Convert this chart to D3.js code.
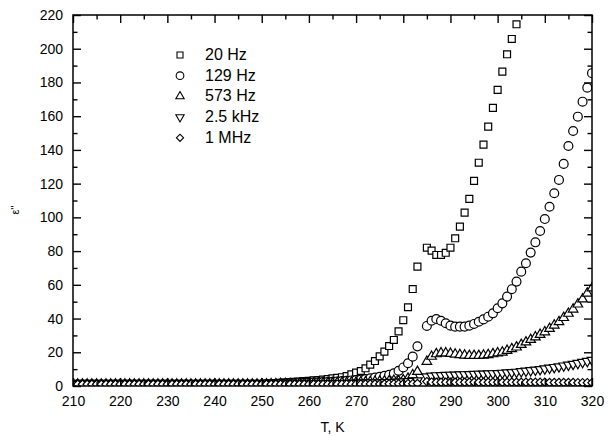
<!DOCTYPE html>
<html>
<head>
<meta charset="utf-8">
<script src="https://cdn.jsdelivr.net/npm/d3@7"></script>
<style>
  body { margin: 0; background: #fff; }
  text { font-family: "Liberation Sans", Arial, sans-serif; fill: #000; }
</style>
</head>
<body>
<svg class="chart"></svg>
<script>
let width = 611,
  height = 437;

// temperatures (K) - no point measured at 284
let temps = [210, 211, 212, 213, 214, 215, 216, 217, 218, 219, 220, 221, 222, 223, 224, 225, 226, 227, 228, 229,
  230, 231, 232, 233, 234, 235, 236, 237, 238, 239, 240, 241, 242, 243, 244, 245, 246, 247, 248, 249,
  250, 251, 252, 253, 254, 255, 256, 257, 258, 259, 260, 261, 262, 263, 264, 265, 266, 267, 268, 269,
  270, 271, 272, 273, 274, 275, 276, 277, 278, 279, 280, 281, 282, 283, 285, 286, 287, 288, 289, 290,
  291, 292, 293, 294, 295, 296, 297, 298, 299, 300, 301, 302, 303, 304, 305, 306, 307, 308, 309, 310,
  311, 312, 313, 314, 315, 316, 317, 318, 319, 320];

// eps'' for each frequency, same order as temps
let hz20 = [1.0, 1.0, 1.0, 1.0, 1.0, 1.0, 1.0, 1.0, 1.0, 1.0, 1.0, 1.0, 1.0, 1.0, 1.0, 1.0, 1.0, 1.0, 1.0, 1.0,
  1.0, 1.0, 1.0, 1.0, 1.0, 1.0, 1.0, 1.0, 1.0, 1.0, 1.0, 1.0, 1.0, 1.0, 1.0, 1.0, 1.2, 1.2, 1.2, 1.2,
  1.2, 1.4, 1.5, 1.7, 1.9, 2.1, 2.3, 2.5, 2.7, 2.9, 3.1, 3.3, 3.5, 3.8, 4.1, 4.5, 4.8, 5.2, 5.9, 6.9,
  7.9, 8.9, 10.5, 12.7, 14.8, 17.6, 20.4, 23.7, 27.3, 32.4, 39.0, 46.7, 57.5, 70.8, 82.0, 80.3, 77.7, 77.7, 79.0, 82.0,
  87.6, 94.5, 102.8, 111.0, 121.6, 132.4, 143.1, 153.8, 164.9, 175.6, 186.4, 196.7, 205.8, 214.5];

let hz129 = [1.0, 1.0, 1.0, 1.0, 1.0, 1.0, 1.0, 1.0, 1.0, 1.0, 1.0, 1.0, 1.0, 1.0, 1.0, 1.0, 1.0, 1.0, 1.0, 1.0,
  1.0, 1.0, 1.0, 1.0, 1.0, 1.0, 1.0, 1.0, 1.0, 1.0, 1.0, 1.0, 1.0, 1.0, 1.0, 1.0, 1.0, 1.0, 1.0, 1.0,
  1.0, 1.1, 1.2, 1.3, 1.4, 1.5, 1.6, 1.7, 1.8, 1.9, 2.0, 2.1, 2.2, 2.3, 2.4, 2.5, 2.7, 2.9, 3.1, 3.3,
  3.5, 3.8, 4.1, 4.5, 5.0, 5.5, 6.0, 6.6, 7.5, 9.0, 11.0, 13.5, 17.4, 23.5, 35.6, 38.7, 39.7, 38.7, 37.2, 35.8,
  35.2, 35.2, 35.2, 35.8, 36.8, 38.1, 39.5, 41.1, 43.1, 46.1, 49.0, 53.0, 57.4, 61.9, 67.8, 72.8, 79.1, 85.2, 91.9, 99.0,
  106.3, 114.3, 122.2, 131.7, 142.3, 151.2, 159.7, 168.6, 176.9, 185.5];

let hz573 = [1.0, 1.0, 1.0, 1.0, 1.0, 1.0, 1.0, 1.0, 1.0, 1.0, 1.0, 1.0, 1.0, 1.0, 1.0, 1.0, 1.0, 1.0, 1.0, 1.0,
  1.0, 1.0, 1.0, 1.0, 1.0, 1.0, 1.0, 1.0, 1.0, 1.0, 1.0, 1.0, 1.0, 1.0, 1.0, 1.0, 1.0, 1.0, 1.0, 1.0,
  1.0, 1.1, 1.2, 1.2, 1.3, 1.3, 1.4, 1.4, 1.5, 1.5, 1.6, 1.6, 1.7, 1.7, 1.8, 1.8, 1.9, 2.0, 2.0, 2.1,
  2.2, 2.3, 2.4, 2.5, 2.6, 2.7, 2.8, 3.0, 3.2, 3.0, 3.5, 4.5, 6.5, 8.5, 14.5, 17.5, 19.0, 19.5, 19.5, 19.2,
  18.8, 18.5, 18.2, 18.0, 18.0, 18.0, 18.2, 18.5, 19.0, 19.5, 20.0, 21.0, 22.0, 23.0, 24.5, 26.0, 27.5, 29.0, 30.5, 32.0,
  34.0, 36.0, 38.0, 40.5, 43.0, 45.5, 48.5, 51.5, 55.0, 58.0];

let khz25 = [1.0, 1.0, 1.0, 1.0, 1.0, 1.0, 1.0, 1.0, 1.0, 1.0, 1.0, 1.0, 1.0, 1.0, 1.0, 1.0, 1.0, 1.0, 1.0, 1.0,
  1.0, 1.0, 1.0, 1.0, 1.0, 1.0, 1.0, 1.0, 1.0, 1.0, 1.0, 1.0, 1.0, 1.0, 1.0, 1.0, 1.0, 1.0, 1.0, 1.0,
  1.0, 1.0, 1.1, 1.1, 1.1, 1.2, 1.2, 1.2, 1.3, 1.3, 1.3, 1.4, 1.4, 1.4, 1.5, 1.5, 1.5, 1.6, 1.6, 1.7,
  1.7, 1.8, 1.8, 1.9, 1.9, 2.0, 2.1, 2.2, 2.3, 2.4, 2.5, 2.7, 2.9, 3.2, 5.5, 6.0, 6.2, 6.3, 6.4, 6.5,
  6.6, 6.7, 6.8, 6.9, 7.0, 7.1, 7.2, 7.3, 7.4, 7.5, 7.7, 7.9, 8.1, 8.3, 8.6, 8.9, 9.2, 9.5, 9.9, 10.3,
  10.7, 11.1, 11.5, 12.0, 12.5, 13.0, 13.5, 14.1, 14.7, 15.3];

let mhz1 = [1.0, 1.0, 1.0, 1.0, 1.0, 1.0, 1.0, 1.0, 1.0, 1.0, 1.0, 1.0, 1.0, 1.0, 1.0, 1.0, 1.0, 1.0, 1.0, 1.0,
  1.0, 1.0, 1.0, 1.0, 1.0, 1.0, 1.0, 1.0, 1.0, 1.0, 1.0, 1.0, 1.0, 1.0, 1.0, 1.0, 1.0, 1.0, 1.0, 1.0,
  1.0, 1.0, 1.0, 1.0, 1.0, 1.0, 1.0, 1.0, 1.0, 1.0, 1.0, 1.0, 1.0, 1.0, 1.0, 1.0, 1.1, 1.1, 1.1, 1.1,
  1.1, 1.1, 1.2, 1.2, 1.2, 1.2, 1.2, 1.3, 1.3, 1.3, 1.3, 1.4, 1.4, 1.5, 2.6, 2.3, 2.2, 2.2, 2.2, 2.2,
  2.2, 2.2, 2.2, 2.2, 2.2, 2.2, 2.2, 2.2, 2.2, 2.2, 2.2, 2.2, 2.2, 2.2, 2.2, 2.2, 2.2, 2.2, 2.2, 2.2,
  2.1, 2.1, 2.1, 2.1, 2.1, 2.1, 2.0, 2.0, 2.0, 2.0];

let seriesNames = ["20 Hz", "129 Hz", "573 Hz", "2.5 kHz", "1 MHz"];
let seriesValues = [hz20, hz129, hz573, khz25, mhz1];
// diamond = square turned 45 degrees, so it is as wide as it is tall
let seriesSymbols = [d3.symbolSquare, d3.symbolCircle, d3.symbolTriangle, d3.symbolTriangle, d3.symbolSquare];
let symbolSizes = [48, 62, 40, 40, 34];
let symbolRotate = [0, 0, 0, 180, 45];

let xTicks = [210, 220, 230, 240, 250, 260, 270, 280, 290, 300, 310, 320];
let yTicks = [0, 20, 40, 60, 80, 100, 120, 140, 160, 180, 200, 220];
let minorX = [215, 225, 235, 245, 255, 265, 275, 285, 295, 305, 315];
let minorY = [10, 30, 50, 70, 90, 110, 130, 150, 170, 190, 210];

let margin = { left: 73, right: 19, top: 15, bottom: 51 };

let x = d3.scaleLinear().domain([210, 320]).range([margin.left, width - margin.right]);
let y = d3.scaleLinear().domain([0, 220]).range([height - margin.bottom, margin.top]);

let svg = d3.select(".chart").attr("width", width).attr("height", height);

svg.append("clipPath").attr("id", "clip")
  .append("rect")
  .attr("x", margin.left).attr("y", margin.top)
  .attr("width", width - margin.left - margin.right)
  .attr("height", height - margin.top - margin.bottom);

// the points
let plot = svg.append("g").attr("clip-path", "url(#clip)");
seriesValues.forEach(function (vals, s) {
  let sym = d3.symbol().type(seriesSymbols[s]).size(symbolSizes[s]);
  plot.selectAll(".s" + s)
    .data(vals)
    .enter()
    .append("path")
    .attr("class", "s" + s)
    .attr("d", sym)
    .attr("transform", function (d, i) {
      return "translate(" + x(temps[i]) + "," + y(d) + ") rotate(" + symbolRotate[s] + ")";
    })
    .attr("fill", "#fff")
    .attr("stroke", "#000")
    .attr("stroke-width", 1.2);
});

// axes, ticks pointing inward on all four sides
function drawAxis(axisFn, scale, major, minor, tx, ty, labels, pad) {
  let g = svg.append("g").attr("transform", "translate(" + tx + "," + ty + ")");
  g.call(axisFn(scale).tickValues(major).tickSize(-8).tickPadding(pad)
    .tickFormat(labels ? d3.format("d") : ""));
  g.append("g").call(axisFn(scale).tickValues(minor).tickSize(-4.5).tickFormat(""));
  g.selectAll(".domain").remove();
  g.selectAll("line").attr("stroke", "#000").attr("stroke-width", 1.4);
  g.selectAll("text").style("font-size", "14px").attr("fill", "#000");
}

drawAxis(d3.axisBottom, x, xTicks, minorX, 0, y(0), true, 10);
drawAxis(d3.axisTop, x, xTicks, minorX, 0, y(220), false, 0);
drawAxis(d3.axisLeft, y, yTicks, minorY, x(210), 0, true, 10);
drawAxis(d3.axisRight, y, yTicks, minorY, x(320), 0, false, 0);

svg.append("rect")
  .attr("x", x(210)).attr("y", y(220))
  .attr("width", x(320) - x(210)).attr("height", y(0) - y(220))
  .attr("fill", "none").attr("stroke", "#000").attr("stroke-width", 1.5);

// axis titles
svg.append("text")
  .attr("x", (x(210) + x(320)) / 2).attr("y", 432)
  .attr("text-anchor", "middle")
  .style("font-size", "14px")
  .text("T, K");

svg.append("text")
  .attr("transform", "translate(19,210) rotate(-90)")
  .attr("text-anchor", "middle")
  .style("font-size", "11px")
  .text("ε''");

// legend
let legend = svg.append("g");
seriesNames.forEach(function (name, s) {
  let ly = 55 + s * 20.7;
  legend.append("path")
    .attr("d", d3.symbol().type(seriesSymbols[s]).size(symbolSizes[s] * 0.75))
    .attr("transform", "translate(180," + ly + ") rotate(" + symbolRotate[s] + ")")
    .attr("fill", "#fff").attr("stroke", "#000").attr("stroke-width", 1.1);
  legend.append("text")
    .attr("x", 205).attr("y", ly + 5)
    .style("font-size", "16px")
    .text(name);
});
</script>
</body>
</html>
